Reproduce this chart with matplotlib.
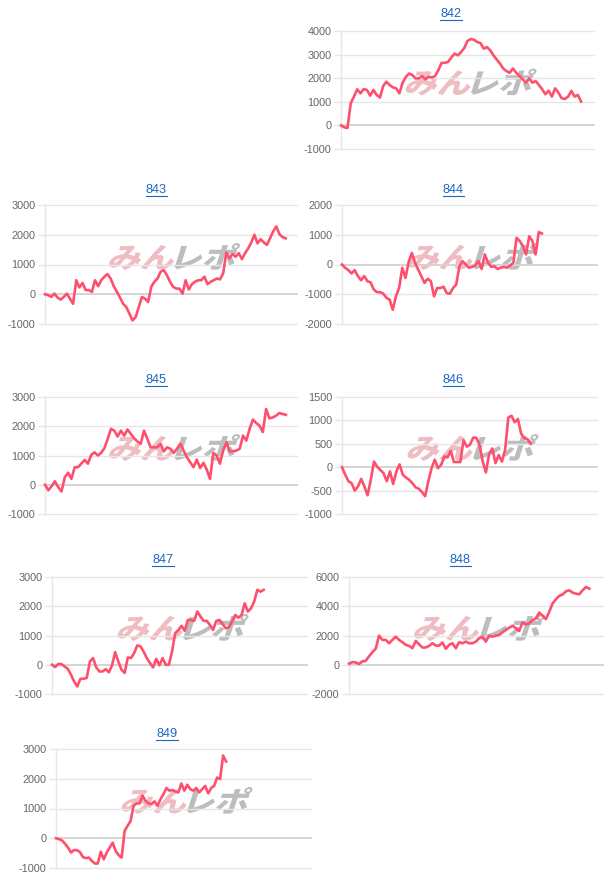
import matplotlib
matplotlib.use('Agg')
import matplotlib.pyplot as plt
from matplotlib.textpath import TextPath
from matplotlib.patches import PathPatch
from matplotlib.font_manager import FontProperties
from matplotlib.transforms import Affine2D
from matplotlib.lines import Line2D

plt.rcParams['font.family'] = ['Liberation Sans', 'DejaVu Sans']

W, H = 608, 893

titles = ['842', '843', '844', '845', '846', '847', '848', '849']

s842 = [0, -80, -110, 940, 1220, 1530, 1360, 1540, 1500, 1260, 1500, 1290, 1180, 1670, 1850,
        1710, 1610, 1570, 1360, 1810, 2060, 2200, 2130, 1990, 1990, 2090, 1950, 2060, 2030,
        2090, 2340, 2650, 2650, 2690, 2880, 3040, 2970, 3110, 3280, 3580, 3660, 3630, 3530,
        3490, 3250, 3320, 3180, 2970, 2790, 2620, 2410, 2300, 2230, 2410, 2230, 2090, 1950,
        1810, 1990, 1810, 1880, 1710, 1530, 1320, 1470, 1220, 1570, 1390, 1150, 1120, 1220,
        1460, 1220, 1290, 1010]
s843 = [0, -30, -90, 20, -110, -180, -90, 20, -150, -320, 470, 230, 380, 140, 140, 80, 470,
        270, 470, 590, 680, 530, 270, 80, -110, -320, -430, -650, -880, -770, -430, -90, -150,
        -260, 250, 420, 530, 760, 810, 640, 420, 250, 190, 190, 20, 470, 160, 340, 420, 470,
        470, 590, 340, 420, 470, 530, 500, 700, 1400, 1210, 1350, 1260, 1380, 1180, 1380,
        1540, 1740, 2000, 1710, 1850, 1740, 1660, 1880, 2110, 2280, 2020, 1920, 1880]
s844 = [0, -110, -190, -300, -190, -390, -530, -390, -560, -600, -840, -930, -930, -980,
        -1120, -1180, -1520, -1070, -790, -110, -450, 80, 390, 60, -170, -390, -620, -480,
        -560, -1070, -790, -790, -750, -960, -980, -790, -670, -60, 110, 0, -110, -80, -30,
        110, -150, 340, 60, -80, -60, -150, -110, -80, -110, -30, 60, 900, 790, 620, 340,
        950, 790, 340, 1090, 1040]
s845 = [0, -190, -50, 120, -80, -230, 260, 410, 200, 600, 600, 720, 850, 720, 1020, 1110,
        1000, 1090, 1250, 1570, 1910, 1850, 1650, 1850, 1680, 1890, 1740, 1590, 1480, 1400,
        1850, 1570, 1280, 1280, 1280, 1400, 1140, 1280, 1230, 1090, 1230, 1400, 1170, 940,
        770, 600, 860, 570, 750, 520, 200, 1090, 1000, 720, 1170, 1450, 1140, 1140, 1170,
        1230, 1680, 1510, 1910, 2230, 2110, 2020, 1800, 2590, 2270, 2300, 2360, 2450, 2420,
        2390]
s846 = [0, -160, -300, -340, -500, -410, -250, -410, -600, -270, 120, 10, -60, -130, -300,
        -90, -360, -90, 60, -160, -220, -270, -340, -430, -460, -530, -620, -300, -20, 160,
        -20, 50, 230, 210, 350, 110, 110, 110, 580, 440, 480, 630, 630, 480, 120, -110, 280,
        400, 90, 260, 120, 370, 1060, 1100, 960, 1030, 720, 620, 600, 500]
s847 = [0, -80, 30, 20, -60, -140, -340, -570, -740, -480, -480, -450, 110, 230, -90, -230,
        -230, -150, -260, -20, 430, 110, -170, -280, 250, 230, 400, 660, 630, 450, 230, 60,
        -90, 200, -20, 230, 0, 0, 450, 1080, 1190, 1330, 1160, 1530, 1530, 1500, 1820, 1650,
        1500, 1500, 1360, 1190, 1500, 1530, 1390, 1250, 1280, 1480, 1700, 1610, 1700, 2100,
        1820, 1930, 2160, 2560, 2500, 2560]
s848 = [70, 180, 160, 50, 230, 270, 570, 860, 1090, 1990, 1700, 1700, 1470, 1700, 1920,
        1700, 1540, 1360, 1290, 1130, 1630, 1400, 1180, 1180, 1290, 1470, 1310, 1310, 1520,
        1090, 1360, 1470, 1130, 1540, 1470, 1580, 1470, 1470, 1580, 1810, 1920, 1580, 1990,
        1920, 1990, 2040, 2220, 2380, 2530, 2670, 2490, 2310, 2900, 2760, 2830, 3050, 3170,
        3570, 3350, 3120, 3620, 4190, 4480, 4710, 4800, 5020, 5090, 4930, 4860, 4820, 5090,
        5320, 5200]
s849 = [0, -30, -70, -180, -310, -480, -400, -400, -460, -630, -670, -650, -760, -850, -850,
        -450, -710, -480, -310, -150, -430, -570, -650, 250, 420, 580, 1090, 1170, 1170, 1430,
        1260, 1170, 1150, 1240, 1090, 1310, 1480, 1690, 1600, 1620, 1570, 1540, 1840, 1600,
        1800, 1650, 1600, 1690, 1540, 1650, 1760, 1510, 1690, 1760, 2040, 1990, 2780, 2580]

series = [s842, s843, s844, s845, s846, s847, s848, s849]

y_ranges = [(-1000, 4000, 1000), (-1000, 3000, 1000), (-2000, 2000, 1000),
            (-1000, 3000, 1000), (-1000, 1500, 500), (-1000, 3000, 1000),
            (-2000, 6000, 2000), (-1000, 3000, 1000)]

# layout (pixels, from top-left): left, right, top, bottom, data-fraction of x, title x, title y
layout = [
    (341, 594, 31, 149, 0.949, 451, 14),
    (45, 297, 205, 324, 0.955, 156, 190),
    (342, 597, 205, 324, 0.784, 453, 190),
    (45, 297, 397, 514, 0.956, 156, 380),
    (342, 597, 397, 514, 0.740, 453, 380),
    (52, 307, 577, 694, 0.830, 163, 560),
    (349, 603, 577, 694, 0.946, 460, 560),
    (56, 311, 749, 868, 0.667, 167, 734),
]

LINE = '#ff4f6e'
GRID = '#e6e6e6'
ZERO = '#d4d4d4'
TICKC = '#666666'
LINK = '#1a66c2'

fig = plt.figure(figsize=(W / 100, H / 100), dpi=100)

wm_font = FontProperties(family='Noto Sans CJK JP', weight='black')


def add_watermark(ax, cx, cy, wpx=134.0, hpx=27.0):
    p1 = TextPath((0, 0), 'みん', size=100, prop=wm_font)
    p2 = TextPath((0, 0), 'レポ', size=100, prop=wm_font)
    e1 = p1.get_extents()
    e2 = p2.get_extents()
    ymin = min(e1.y0, e2.y0)
    h = max(e1.y1, e2.y1) - ymin
    sy = hpx / h
    gap = 6
    total = (e1.x1 - e1.x0) + (e2.x1 - e2.x0) + gap
    shear = 0.32
    sx = (wpx - shear * hpx) / total
    x0 = cx - wpx / 2
    y0 = (H - cy) - hpx / 2 - ymin * sy
    t1 = (Affine2D().translate(-e1.x0, -ymin).scale(sx, sy)
          .skew(0.31, 0).translate(x0, (H - cy) - hpx / 2))
    x2 = x0 + ((e1.x1 - e1.x0) + gap) * sx
    t2 = (Affine2D().translate(-e2.x0, -ymin).scale(sx, sy)
          .skew(0.31, 0).translate(x2, (H - cy) - hpx / 2))
    pa = PathPatch(p1, transform=t1, facecolor='#e9a4aa', edgecolor='none', alpha=0.72,
                   zorder=0.5, clip_on=False)
    pb = PathPatch(p2, transform=t2, facecolor='#a4a4a4', edgecolor='none', alpha=0.72,
                   zorder=0.5, clip_on=False)
    ax.add_artist(pa)
    ax.add_artist(pb)


title_texts = []
for vals, title, (ymin, ymax, ystep), (l, r, t, b, frac, tx, ty) in zip(
        series, titles, y_ranges, layout):
    ax = fig.add_axes([l / W, 1 - b / H, (r - l) / W, (b - t) / H])
    n = len(vals)
    xs = list(range(n))
    ax.plot(xs, vals, color=LINE, lw=1.9, solid_joinstyle='round', zorder=3, clip_on=False)
    ax.set_xlim(0, (n - 1) / frac)
    ax.set_ylim(ymin, ymax)
    ticks = list(range(ymin, ymax + 1, ystep))
    ax.set_yticks(ticks)
    ax.set_yticklabels([str(v) for v in ticks])
    ax.set_xticks([])
    ax.grid(axis='y', color=GRID, lw=1.0)
    for v, gl in zip(ticks, ax.get_ygridlines()):
        gl.set_clip_on(False)
        if v == 0:
            gl.set_color(ZERO)
            gl.set_linewidth(1.4)
    ax.tick_params(axis='y', length=5, width=1.0, color=GRID, pad=2,
                   labelsize=7.8, labelcolor=TICKC)
    for sp in ['top', 'right', 'bottom']:
        ax.spines[sp].set_visible(False)
    ax.spines['left'].set_color(GRID)
    ax.spines['left'].set_linewidth(1.0)
    add_watermark(ax, (l + r) / 2 + 3, (t + b) / 2 - 8)
    txt = fig.text(tx / W, 1 - ty / H, title, color=LINK, fontsize=9.2,
                   ha='center', va='center')
    title_texts.append(txt)

fig.canvas.draw()
renderer = fig.canvas.get_renderer()
for txt in title_texts:
    bb = txt.get_window_extent(renderer)
    yline = bb.y0 + 0.5
    fig.add_artist(Line2D([bb.x0 / W, bb.x1 / W], [yline / H, yline / H],
                          transform=fig.transFigure, color=LINK, lw=0.8))

fig.savefig('out.png', dpi=100, facecolor='white')
